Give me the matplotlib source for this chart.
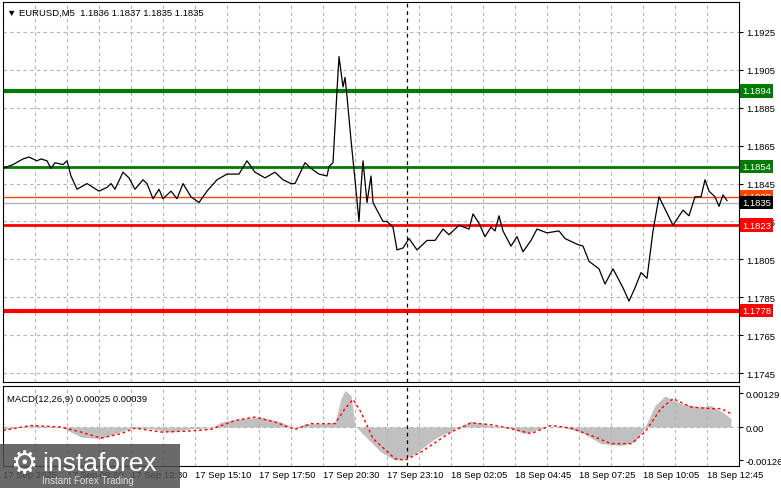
import matplotlib
matplotlib.use("Agg")
import matplotlib.pyplot as plt
from matplotlib.patches import Rectangle
from matplotlib.transforms import blended_transform_factory

# price line, bar index (M5 bars) and close
bars = [0, 5, 10, 13, 17, 19, 22, 24, 26, 30, 32, 34, 37, 42, 48, 52, 54, 56, 60, 63,
        66, 70, 72, 75, 78, 80, 84, 87, 90, 94, 98, 102, 107, 112, 118, 122, 126, 131,
        136, 140, 144, 146, 151, 154, 158, 162, 163, 165, 167, 168, 170, 171, 172, 174,
        176, 178, 179, 180, 182, 184, 185, 187, 190, 192, 195, 197, 200, 203, 207, 212,
        216, 220, 223, 228, 233, 235, 238, 241, 244, 246, 248, 250, 254, 257, 260, 264,
        267, 272, 278, 281, 287, 290, 293, 298, 301, 305, 310, 313, 316, 319, 322, 325,
        328, 335, 340, 343, 346, 349, 351, 353, 356, 358, 360, 362]
close = [1.1853, 1.1855, 1.1858, 1.1859, 1.1857, 1.1858, 1.1857, 1.1853, 1.1856, 1.1855,
         1.1857, 1.1849, 1.1842, 1.1845, 1.1841, 1.1843, 1.1845, 1.1842, 1.1851, 1.1848,
         1.1842, 1.1847, 1.1845, 1.1837, 1.1842, 1.1837, 1.1841, 1.1837, 1.1845, 1.1838,
         1.1835, 1.1841, 1.1847, 1.1850, 1.1850, 1.1857, 1.1851, 1.1848, 1.1851, 1.1847,
         1.1845, 1.1845, 1.1856, 1.1853, 1.1850, 1.1849, 1.1854, 1.1856, 1.1894, 1.1912,
         1.1896, 1.1901, 1.1891, 1.1868, 1.1847, 1.1825, 1.1843, 1.1857, 1.1835, 1.1849,
         1.1835, 1.1831, 1.1825, 1.1825, 1.1822, 1.1810, 1.1811, 1.1816, 1.1810, 1.1815,
         1.1815, 1.1821, 1.1818, 1.1823, 1.1821, 1.1829, 1.1824, 1.1817, 1.1822, 1.1820,
         1.1828, 1.1820, 1.1812, 1.1817, 1.1809, 1.1815, 1.1821, 1.1819, 1.1820, 1.1816,
         1.1813, 1.1812, 1.1804, 1.1800, 1.1792, 1.1800, 1.1790, 1.1783, 1.1790, 1.1798,
         1.1795, 1.1820, 1.1838, 1.1823, 1.1831, 1.1828, 1.1838, 1.1838, 1.1847, 1.1841,
         1.1838, 1.1833, 1.1839, 1.1836]

# MACD histogram and signal (units of 1e-5)
hist_bars = [0, 14, 29, 39, 49, 56, 64, 74, 84, 94, 104, 109, 119, 129, 139, 146, 151, 161,
             166, 169, 171, 174, 176, 179, 189, 196, 201, 206, 216, 226, 234, 244, 254, 261,
             271, 279, 289, 299, 309, 316, 321, 326, 331, 339, 349, 354, 361, 364]
hist = [-9, 6, 0, -38, -44, -25, -4, -6, -19, -6, -4, 19, 32, 38, 19, -6, 13, 13,
        19, 108, 139, 120, 6, -19, -95, -126, -120, -101, -44, -6, 22, 6, -6, -25,
        0, 0, -19, -63, -70, -57, 0, 82, 118, 89, 76, 82, 51, 32]
sig_bars = [0, 14, 29, 39, 49, 59, 66, 79, 91, 104, 116, 126, 136, 146, 154, 166, 171, 175,
            179, 185, 196, 201, 209, 224, 234, 244, 254, 264, 274, 284, 294, 304, 314, 321,
            329, 335, 344, 354, 359, 364]
signal = [-13, 6, 0, -19, -42, -25, -4, -19, -16, -9, 25, 38, 19, -9, 13, 13, 70, 105,
          57, -44, -120, -126, -95, -19, 16, 9, -6, -25, 6, -4, -32, -63, -63, -19,
          70, 108, 76, 70, 70, 51]

price_ticks = [1.1925, 1.1905, 1.1885, 1.1865, 1.1845, 1.1825, 1.1805, 1.1785, 1.1765, 1.1745]
time_ticks = [0, 32, 64, 96, 128, 160, 192, 224, 256, 288, 320, 352]
time_labels = ["17 Sep 2025", "17 Sep 09:50", "17 Sep 12:30", "17 Sep 15:10", "17 Sep 17:50",
               "17 Sep 20:30", "17 Sep 23:10", "18 Sep 02:05", "18 Sep 04:45", "18 Sep 07:25",
               "18 Sep 10:05", "18 Sep 12:45"]
levels = [(1.1894, "#007a00", 3.0), (1.1854, "#007a00", 2.0),
          (1.1823, "#ff0000", 2.0), (1.1778, "#ff0000", 3.0)]
ask_price, bid_price = 1.1838, 1.1835

W, H = 781, 489
plt.rcParams['font.family'] = ['Liberation Sans', 'DejaVu Sans']
fig = plt.figure(figsize=(W / 100, H / 100), dpi=100)
fig.patch.set_facecolor("white")
fs = 6.8

ax = fig.add_axes([3 / W, 1 - 383 / H, 736 / W, 380 / H])
mx = fig.add_axes([3 / W, 1 - 467 / H, 736 / W, 80 / H])

for a in (ax, mx):
    a.set_xlim(0, 368)
    a.yaxis.tick_right()
    a.tick_params(axis="y", length=3, labelsize=fs, pad=2)
    a.set_xticks(range(0, 368, 16))
    a.tick_params(axis="x", length=0, labelbottom=False)
    a.grid(axis="x", color="#b4b4b4", linestyle=(0, (3, 3)), linewidth=0.8)
    a.axvline(202, color="black", linestyle=(0, (3, 3)), linewidth=0.9)

ax.set_ylim(1.17403, 1.19408)
ax.set_yticks(price_ticks)
ax.set_yticklabels([f"{p:.4f}" for p in price_ticks])
ax.grid(axis="y", color="#b4b4b4", linestyle=(0, (3, 3)), linewidth=0.8)

ax.axhline(bid_price, color="#b4b4b4", linewidth=1.0)
ax.axhline(ask_price, color="#ff4500", linewidth=1.0)
for val, col, lw in levels:
    ax.axhline(val, color=col, linewidth=lw)
ax.plot(bars, close, color="black", linewidth=0.9)

tr = blended_transform_factory(ax.transAxes, ax.transData)
def price_box(val, bg):
    ax.text(1.004, val, f"{val:.4f}", transform=tr, fontsize=fs, color="white",
            va="center", ha="left",
            bbox=dict(boxstyle="square,pad=0.25", fc=bg, ec="none"))

price_box(ask_price, "#ff4500")
price_box(bid_price, "black")
for val, col, lw in levels:
    price_box(val, col)

ax.text(0.006, 0.985, "\u25bc EURUSD,M5  1.1836 1.1837 1.1835 1.1835", transform=ax.transAxes,
        fontsize=fs, va="top", ha="left")

# MACD panel
mx.set_ylim(-0.00148, 0.00156)
mx.set_yticks([0.00129, 0.0, -0.00126])
mx.set_yticklabels(["0.00129", "0.00", "-0.00126"])
mx.axhline(0, color="#b4b4b4", linestyle=(0, (3, 3)), linewidth=0.8)
mx.fill_between(hist_bars, [h * 1e-5 for h in hist], 0, color="#c0c0c0", linewidth=0)
mx.plot(sig_bars, [s * 1e-5 for s in signal], color="red", linestyle=(0, (2, 2)), linewidth=1.0)
mx.text(0.006, 0.9, "MACD(12,26,9) 0.00025 0.00039", transform=mx.transAxes,
        fontsize=fs, va="top", ha="left")

for t, lab in zip(time_ticks, time_labels):
    mx.text(t, -0.00162, lab, fontsize=fs, va="top", ha="left")

# logo overlay
fig.patches.append(Rectangle((0, 0), 180 / W, 44 / H, transform=fig.transFigure,
                             facecolor="#505050", alpha=0.85, edgecolor="none"))
fig.text(42 / W, 25 / H, "instaforex", color="white", fontsize=19, va="center", ha="left")
fig.text(42 / W, 8 / H, "Instant Forex Trading", color="#dddddd", fontsize=7, va="center", ha="left")
fig.text(10 / W, 24 / H, "\u2699", color="white", fontsize=22, va="center", ha="left",
         family="DejaVu Sans")

fig.savefig("out.png", dpi=100)
